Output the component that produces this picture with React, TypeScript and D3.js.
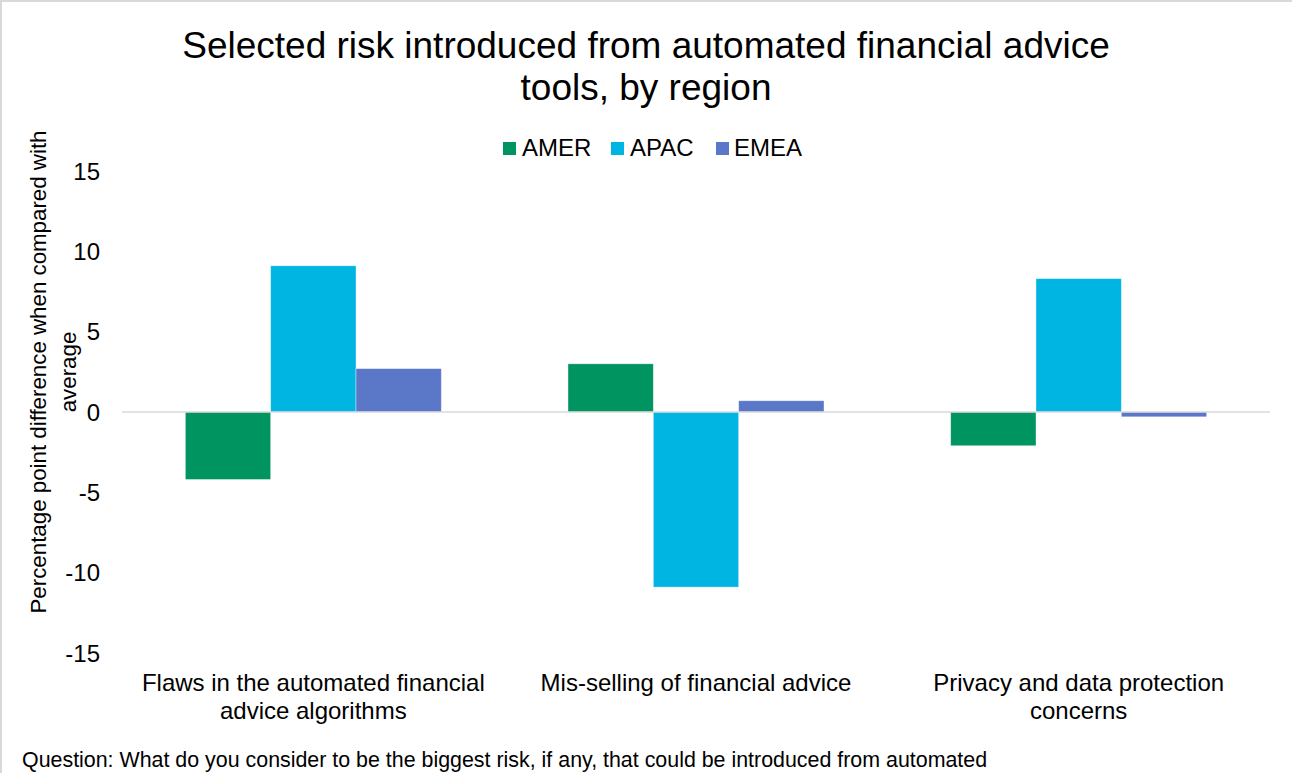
import React from "react";
import * as d3 from "d3";

const categories = [
  ["Flaws in the automated financial", "advice algorithms"],
  ["Mis-selling of financial advice"],
  ["Privacy and data protection", "concerns"],
];
const seriesNames = ["AMER", "APAC", "EMEA"];
const seriesColors = ["#009460", "#00b5e2", "#5b78c8"];
const amer = [-4.2, 3.0, -2.1];
const apac = [9.1, -10.9, 8.3];
const emea = [2.7, 0.7, -0.3];
const yTicks = [15, 10, 5, 0, -5, -10, -15];

const W = 1292;
const H = 773;
const FONT = "'Liberation Sans', Arial, sans-serif";

export default function App() {
  const series = [amer, apac, emea];
  const plotLeft = 122;
  const plotRight = 1270;
  const x = d3
    .scaleBand<number>()
    .domain(d3.range(categories.length))
    .range([plotLeft, plotRight])
    .paddingInner(0)
    .paddingOuter(0);
  const groupFrac = 256 / 382.7;
  const y = d3.scaleLinear().domain([-15, 15]).range([653, 171]);
  const step = x.bandwidth();
  const groupW = step * groupFrac;
  const barW = groupW / series.length;

  const legendItems = [
    { sx: 503, tx: 522 },
    { sx: 611, tx: 630 },
    { sx: 716, tx: 734 },
  ];

  return (
    <svg
      width={W}
      height={H}
      style={{ position: "absolute", left: 0, top: 0, background: "#fff" }}
      fontFamily={FONT}
    >
      <rect x={1} y={1} width={W + 10} height={H + 10} fill="#fff" stroke="#d9d9d9" strokeWidth={2} />
      <text x={646} y={58} textAnchor="middle" fontSize={37} fill="#000">
        Selected risk introduced from automated financial advice
      </text>
      <text x={646} y={100} textAnchor="middle" fontSize={37} fill="#000">
        tools, by region
      </text>

      {seriesNames.map((name, i) => (
        <g key={name}>
          <rect x={legendItems[i].sx} y={142} width={13} height={13} fill={seriesColors[i]} />
          <text x={legendItems[i].tx} y={155.5} fontSize={24} fill="#000">
            {name}
          </text>
        </g>
      ))}

      {yTicks.map((t) => (
        <text key={t} x={100} y={y(t) + 8.5} textAnchor="end" fontSize={24} fill="#000">
          {t}
        </text>
      ))}

      <g transform={`translate(46, 372) rotate(-90)`}>
        <text x={0} y={0} textAnchor="middle" fontSize={22.3} fill="#000">
          Percentage point difference when compared with
        </text>
        <text x={0} y={30} textAnchor="middle" fontSize={22.3} fill="#000">
          average
        </text>
      </g>

      {categories.map((_, ci) =>
        series.map((vals, si) => {
          const cx = (x(ci) as number) + step / 2;
          const bx = cx - groupW / 2 + si * barW;
          const v = vals[ci];
          const y0 = y(0);
          const y1 = y(v);
          return (
            <rect
              key={`${ci}-${si}`}
              x={bx}
              y={Math.min(y0, y1)}
              width={barW}
              height={Math.abs(y1 - y0)}
              fill={seriesColors[si]}
              stroke="#ffffff"
              strokeOpacity={0.5}
              strokeWidth={0.75}
            />
          );
        })
      )}

      <line x1={plotLeft} x2={plotRight} y1={y(0)} y2={y(0)} stroke="#d9d9d9" strokeWidth={1.5} />

      {categories.map((lines, ci) => {
        const cx = (x(ci) as number) + step / 2;
        return (
          <text key={ci} textAnchor="middle" fontSize={24} fill="#000">
            {lines.map((ln, li) => (
              <tspan key={li} x={cx} y={691 + li * 28}>
                {ln}
              </tspan>
            ))}
          </text>
        );
      })}

      <text x={22} y={767} fontSize={21.4} fill="#000">
        Question: What do you consider to be the biggest risk, if any, that could be introduced from automated
      </text>
    </svg>
  );
}
